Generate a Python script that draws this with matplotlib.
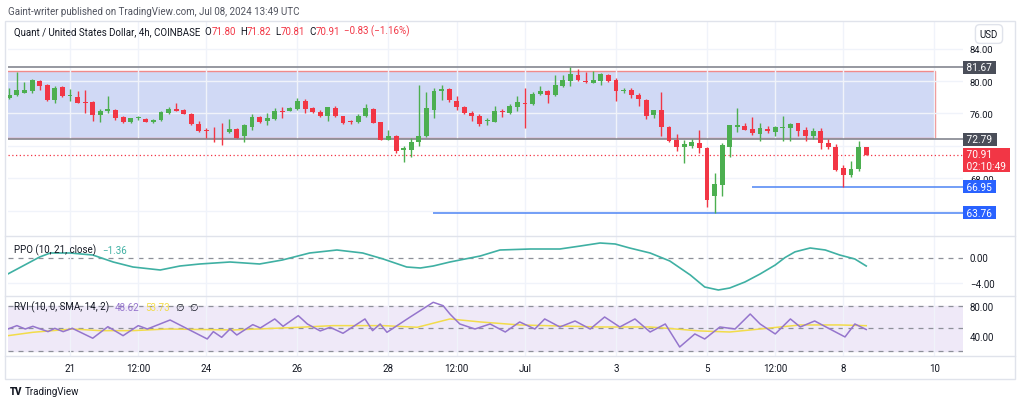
import numpy as np
import matplotlib
matplotlib.use('Agg')
import matplotlib.pyplot as plt
from matplotlib.patches import Rectangle
from matplotlib.lines import Line2D

plt.rcParams['font.family'] = ['Roboto', 'DejaVu Sans']

# 4h candles, Jun 19 16:00 .. Jul 8 12:00 (index 0 = Jun 19 16:00)
opens = [77.95, 78.32, 78.56, 78.77, 79.96, 79.51, 77.62, 79.26, 78.19, 77.99,
         77.41, 77.37, 75.85, 76.26, 76.42, 75.52, 74.90, 75.44, 75.35, 74.90,
         75.19, 76.05, 76.55, 76.42, 75.93, 74.74, 74.00, 74.00, 73.95, 73.67,
         74.08, 73.17, 74.28, 75.52, 75.06, 75.31, 76.30, 76.34, 76.55, 77.58,
         76.63, 76.13, 75.72, 76.71, 75.64, 75.06, 74.90, 75.64, 76.55, 74.90,
         72.76, 73.25, 71.44, 71.53, 72.43, 73.25, 76.46, 78.73, 79.01, 77.58,
         76.83, 76.05, 75.64, 75.06, 74.98, 76.30, 76.05, 76.83, 77.33, 77.16,
         78.44, 78.73, 78.27, 79.43, 80.00, 80.74, 79.96, 79.80, 80.00, 80.78,
         80.17, 78.77, 78.89, 78.32, 77.70, 75.81, 76.42, 74.28, 72.72, 71.81,
         72.02, 72.35, 71.69, 65.74, 67.20, 71.89, 74.28, 74.45, 74.07, 73.50,
         74.03, 73.70, 74.16, 74.16, 74.77, 73.95, 73.17, 73.87, 72.35, 71.89,
         69.22, 68.40, 69.14, 71.80]
highs = [79.10, 81.16, 79.84, 80.25, 80.17, 79.59, 79.43, 79.43, 79.01, 78.77,
         78.89, 77.49, 76.55, 78.19, 76.55, 75.72, 75.48, 75.72, 75.44, 75.31,
         76.34, 76.75, 77.33, 76.50, 76.05, 75.11, 74.16, 74.28, 74.82, 75.31,
         74.16, 74.69, 75.93, 75.72, 76.05, 76.63, 76.83, 76.83, 77.90, 77.78,
         76.75, 76.46, 76.83, 76.88, 75.72, 75.23, 75.93, 77.16, 76.63, 74.98,
         74.00, 73.34, 71.94, 73.01, 79.51, 78.60, 79.14, 79.51, 79.10, 78.19,
         76.88, 76.34, 75.93, 75.44, 76.88, 76.55, 77.16, 78.11, 79.10, 78.60,
         79.43, 78.89, 80.74, 80.74, 81.67, 81.48, 81.16, 81.28, 80.99, 80.91,
         80.33, 79.18, 79.10, 78.48, 77.78, 76.46, 78.60, 74.41, 73.46, 72.76,
         72.84, 74.00, 71.86, 68.62, 72.39, 74.61, 76.67, 74.86, 75.60, 74.82,
         74.40, 74.45, 75.72, 74.86, 74.86, 74.28, 74.16, 74.16, 72.80, 72.22,
         69.63, 70.08, 72.63, 71.82]
lows = [77.78, 78.11, 78.52, 78.52, 78.93, 77.58, 77.33, 77.99, 77.58, 77.29,
        76.01, 75.11, 74.98, 76.01, 75.23, 74.86, 74.78, 75.23, 74.94, 74.78,
        75.11, 75.93, 76.26, 75.89, 74.61, 73.75, 72.97, 72.51, 72.10, 73.58,
        72.93, 72.51, 73.99, 74.78, 74.57, 75.19, 75.39, 76.26, 76.46, 76.05,
        76.05, 75.52, 75.06, 75.56, 74.74, 74.65, 74.78, 75.52, 74.82, 72.72,
        72.68, 71.11, 70.04, 70.58, 71.94, 73.05, 75.39, 77.70, 77.37, 76.46,
        75.93, 75.11, 74.49, 74.57, 74.90, 75.60, 75.93, 76.30, 74.16, 77.04,
        78.32, 77.33, 78.19, 79.30, 79.43, 80.00, 79.80, 79.72, 79.51, 79.92,
        77.58, 78.52, 77.90, 76.92, 75.31, 75.44, 73.17, 72.51, 71.40, 69.88,
        71.69, 71.11, 64.40, 63.76, 65.85, 70.66, 73.75, 73.95, 73.37, 72.55,
        73.58, 73.21, 72.63, 72.63, 73.17, 72.63, 72.84, 71.61, 71.61, 68.93,
        66.95, 68.19, 68.93, 70.81]
closes = [78.27, 78.89, 78.89, 80.09, 79.43, 77.62, 79.14, 78.11, 78.27, 77.33,
          77.33, 75.85, 76.30, 76.55, 75.48, 74.90, 75.39, 75.52, 74.98, 75.23,
          76.13, 76.55, 76.34, 75.93, 74.65, 73.87, 73.83, 73.91, 73.91, 74.08,
          73.01, 74.57, 75.52, 74.90, 75.44, 76.34, 76.22, 76.63, 77.49, 76.55,
          76.13, 75.64, 76.75, 75.64, 74.78, 74.98, 75.64, 76.63, 74.86, 72.76,
          73.25, 71.40, 71.73, 72.51, 73.17, 76.63, 78.73, 78.97, 77.66, 76.75,
          76.01, 75.64, 74.75, 75.19, 76.34, 76.13, 76.96, 77.45, 77.20, 78.44,
          78.73, 78.27, 79.51, 80.09, 80.87, 80.09, 79.84, 80.17, 80.87, 79.96,
          78.73, 78.89, 78.32, 77.74, 75.72, 76.42, 74.28, 72.64, 71.81, 72.27,
          72.43, 71.69, 65.33, 67.27, 72.10, 74.57, 74.57, 73.99, 73.58, 74.16,
          73.83, 74.28, 74.28, 74.69, 73.87, 73.17, 73.87, 72.31, 71.81, 69.01,
          68.44, 69.18, 71.81, 70.91]

# PPO (10, 21, close) at candle positions
ppo_x = [-0.2, 4.0, 5.4, 8.0, 11.0, 13.7, 16.3, 19.9, 22.5, 25.1,
         29.1, 33.0, 36.0, 39.6, 43.2, 46.6, 49.3, 52.4, 54.2, 55.9,
         58.1, 62.1, 64.7, 68.7, 72.6, 75.3, 77.9, 79.9, 81.8, 84.5,
         87.1, 89.8, 91.7, 93.5, 95.0, 97.0, 99.0, 101.0, 102.3, 103.6,
         105.6, 107.6, 109.5, 111.5, 113.0]
ppo_v = [-2.64, 0.08, 0.72, 0.72, 0.4, -0.72, -1.52, -2.0, -1.36, -1.04,
         -0.72, -1.04, -0.4, 0.72, 1.2, 0.72, -0.24, -1.52, -1.68, -1.36,
         -0.72, 0.24, 1.2, 1.36, 1.36, 1.84, 2.32, 2.16, 1.52, 0.72,
         -0.56, -2.8, -4.72, -5.2, -4.88, -3.92, -2.64, -1.2, 0.0, 0.9,
         1.52, 1.2, 0.4, -0.24, -1.36]

# RVI (10, 0, SMA, 14, 2)
rvi_x = [-0.18, 1.0, 2.1, 3.1, 5.1, 6.0, 7.1, 8.3, 11.0, 13.0,
         15.0, 17.0, 18.2, 21.2, 26.1, 26.9, 28.0, 29.1, 30.0, 32.1,
         33.1, 35.0, 36.1, 38.1, 39.3, 41.0, 42.3, 44.0, 46.9, 47.9,
         48.9, 49.8, 52.8, 55.9, 57.2, 58.1, 59.4, 61.4, 63.4, 65.4,
         67.3, 69.3, 70.6, 72.6, 74.6, 76.6, 78.5, 80.5, 82.5, 84.5,
         86.5, 88.4, 90.4, 91.7, 93.7, 95.7, 97.7, 99.0, 101.0, 103.0,
         104.3, 106.2, 108.2, 110.2, 111.5, 113.0]
rvi_v = [49.3, 53.8, 49.3, 52.9, 45.8, 50.2, 45.8, 50.2, 37.0, 52.4,
         40.4, 53.8, 49.3, 61.3, 36.0, 45.8, 38.2, 49.3, 41.3, 55.1,
         50.7, 62.7, 52.9, 67.1, 56.0, 46.7, 51.6, 43.6, 62.7, 47.1,
         56.0, 44.9, 64.9, 84.9, 80.4, 69.3, 56.0, 49.3, 56.0, 45.3,
         58.7, 49.3, 62.7, 52.0, 60.0, 49.3, 65.3, 52.0, 62.7, 45.3,
         56.0, 25.3, 42.7, 36.0, 52.0, 49.3, 69.3, 56.0, 42.7, 62.7,
         52.0, 60.0, 49.3, 38.7, 56.0, 48.62]
sig_x = [-0.18, 3.1, 8.3, 12.0, 16.3, 20.8, 29.5, 38.3, 42.7, 49.3,
         53.8, 58.1, 62.1, 67.3, 72.6, 77.9, 84.5, 91.1, 95.0, 99.0,
         104.3, 109.5, 113.0]
sig_v = [40.4, 44.9, 49.3, 47.1, 47.1, 49.3, 48.0, 51.6, 53.8, 53.8,
         51.6, 62.7, 58.7, 54.7, 53.3, 52.0, 52.0, 46.7, 45.3, 49.3,
         54.7, 54.7, 53.73]

tick_pos = [8, 17, 26, 38, 50, 59, 68, 80, 92, 101, 110, 122]
tick_labels = ['21', '12:00', '24', '26', '28', '12:00', 'Jul', '3', '5', '12:00', '8', '10']
price_ticks = [64, 68, 72, 76, 80, 84]

zone_top, zone_bottom, zone_end = 81.27, 73.0, 122.07
gray_levels = [81.67, 72.79]
blue_levels = [66.95, 63.76]
blue_starts = [97.9, 55.9]
last_price = 70.91

GREEN = '#4caf50'
RED = '#f23645'
TEAL = '#3fb0a3'
PURPLE = '#9575cd'
YELLOW = '#f2dc4a'
TXT = '#131722'
GRID = '#f0f3fa'

W, H = 1024, 406
fig = plt.figure(figsize=(W / 100, H / 100), dpi=100)


def box(left, top, right, bottom):
    return [left / W, 1 - bottom / H, (right - left) / W, (bottom - top) / H]


ax = fig.add_axes(box(8, 22, 963, 237))
ax_ppo = fig.add_axes(box(8, 237, 963, 297), sharex=ax)
ax_rvi = fig.add_axes(box(8, 297, 963, 357), sharex=ax)
xmin, xmax = -0.175, 125.76

for a in (ax, ax_ppo, ax_rvi):
    a.set_facecolor('none')
    for s in a.spines.values():
        s.set_visible(False)
    a.set_xticks(tick_pos)
    a.grid(axis='x', color=GRID, lw=1, zorder=0)
    a.yaxis.tick_right()
    a.tick_params(axis='both', length=0, labelsize=7, labelcolor=TXT, pad=5)
ax.tick_params(labelbottom=False)
ax_ppo.tick_params(labelbottom=False)
ax_rvi.set_xticklabels(tick_labels)
ax_rvi.tick_params(axis='x', pad=5)
ax.set_xlim(xmin, xmax)

# main pane; 64 and 72 labels sit under the price tags, so they stay blank
ax.set_ylim(60.86, 87.41)
ax.set_yticks(price_ticks)
ax.set_yticklabels(['' if v in (64, 72) else '%.2f' % v for v in price_ticks])
ax.tick_params(axis='y', labelsize=6.8)
ax.grid(axis='y', color=GRID, lw=1, zorder=0)

ax.add_patch(Rectangle((xmin - 2, zone_bottom), zone_end - xmin + 2, zone_top - zone_bottom,
                       fc='#d0d9f5', ec='#f08a8a', lw=1, zorder=1))
for lv in gray_levels:
    ax.axhline(lv, color='#8d9099', lw=1.3, zorder=2)
for lv, st in zip(blue_levels, blue_starts):
    ax.hlines(lv, st, xmax, color='#5b8ef5', lw=1.2, zorder=2)
ax.axhline(last_price, color=RED, lw=0.9, ls=(0, (1, 2)), zorder=2)

x = np.arange(len(closes))
o = np.array(opens)
c = np.array(closes)
cols = np.where(c >= o, GREEN, RED)
ax.vlines(x, lows, highs, colors=cols, lw=1, zorder=3)
ax.bar(x, np.maximum(np.abs(c - o), 0.08), bottom=np.minimum(o, c), width=0.64,
       color=cols, zorder=4)


def price_tag(a, y, text, fc, size=7.3, spacing=1.2):
    a.annotate(text, xy=(1.0, y), xycoords=('axes fraction', 'data'), xytext=(1, 0),
               textcoords='offset points', ha='left', va='center', color='white',
               fontsize=size, linespacing=spacing,
               bbox=dict(boxstyle='square,pad=0.15', fc=fc, ec='none'),
               annotation_clip=False, zorder=10)


price_tag(ax, 81.67, ' 81.67 ', '#4a4e59')
price_tag(ax, 72.79, ' 72.79 ', '#4a4e59')
price_tag(ax, 70.25, ' 70.91\n 02:10:49 ', RED)
price_tag(ax, 66.95, ' 66.95 ', '#2962ff')
price_tag(ax, 63.76, ' 63.76 ', '#2962ff')

# PPO pane
ax_ppo.set_ylim(-6.16, 3.44)
ax_ppo.set_yticks([0, -4])
ax_ppo.set_yticklabels(['0.00', '\u22124.00'])
ax_ppo.axhline(-4, color=GRID, lw=1, zorder=0)
ax_ppo.axhline(0, color='#8d9099', lw=0.9, ls=(0, (4, 4)), zorder=1)
ax_ppo.plot(ppo_x, ppo_v, color=TEAL, lw=1.2, zorder=3)

# RVI pane
ax_rvi.set_ylim(13.3, 93.3)
ax_rvi.set_yticks([80, 40])
ax_rvi.set_yticklabels(['80.00', '40.00'])
ax_rvi.axhspan(20, 80, color='#efe9f8', zorder=0)
for lv in (80, 50, 20):
    ax_rvi.axhline(lv, color='#8d9099', lw=0.9, ls=(0, (4, 4)), zorder=1)
ax_rvi.plot(sig_x, sig_v, color=YELLOW, lw=1.1, zorder=2)
ax_rvi.plot(rvi_x, rvi_v, color=PURPLE, lw=1.1, zorder=3)


def chain(a, parts, xp, yp, size=7):
    prev = fig.text(xp / W, 1 - yp / H, parts[0][0], color=parts[0][1], fontsize=size,
                    va='center', ha='left', zorder=20)
    for s, col, gap in parts[1:]:
        prev = a.annotate(s, xy=(1, 0), xycoords=prev, xytext=(gap, 0),
                          textcoords='offset points', color=col, fontsize=size,
                          va='bottom', ha='left', annotation_clip=False, zorder=20)


fig.text(8 / W, 1 - 12 / H, 'Gaint-writer published on TradingView.com, Jul 08, 2024 13:49 UTC',
         fontsize=7, color='#50535e', va='center')
chain(ax, [('Quant / United States Dollar, 4h, COINBASE', TXT),
           ('O', TXT, 3), ('71.80', RED, 0), ('H', TXT, 3), ('71.82', RED, 0),
           ('L', TXT, 3), ('70.81', RED, 0), ('C', TXT, 3), ('70.91', RED, 0),
           ('\u22120.83 (\u22121.16%)', RED, 3)], 14, 32)
chain(ax_ppo, [('PPO (10, 21, close)', TXT), ('\u22121.36', TEAL, 4)], 14, 250)
chain(ax_rvi, [('RVI (10, 0, SMA, 14, 2)', TXT), ('48.62', PURPLE, 4), ('53.73', YELLOW, 4),
               ('\u2205', TXT, 4), ('\u2205', TXT, 4)], 14, 307)

fig.text(989 / W, 1 - 35 / H, 'USD', ha='center', va='center', fontsize=7, color=TXT,
         bbox=dict(boxstyle='round,pad=0.45', fc='white', ec='#e0e3eb'))

# frame and pane separators
fig.add_artist(Rectangle((5 / W, 1 - 380 / H), 1010 / W, 358 / H, transform=fig.transFigure,
                         fill=False, ec='#e0e3eb', lw=1))
for yp in (237, 297, 357):
    fig.add_artist(Line2D([5 / W, 1015 / W], [1 - yp / H, 1 - yp / H],
                          transform=fig.transFigure, color='#e0e3eb', lw=1))

fig.text(10 / W, 1 - 392 / H, 'TV', fontsize=7, fontweight='heavy', color=TXT, va='center')
fig.text(25 / W, 1 - 392 / H, 'TradingView', fontsize=7, color=TXT, va='center')

fig.savefig('out.png', dpi=100, facecolor='white')
